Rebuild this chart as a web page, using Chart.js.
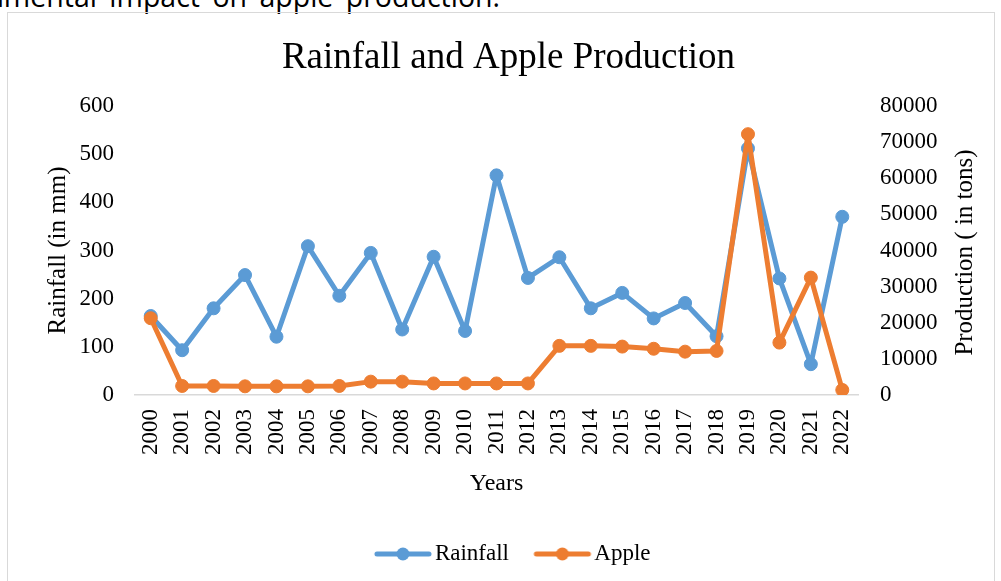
<!DOCTYPE html>
<html>
<head>
<meta charset="utf-8">
<script src="https://cdn.jsdelivr.net/npm/chart.js@4"></script>
<style>
  html, body { margin: 0; padding: 0; background: #fff; }
  body { width: 1001px; height: 581px; position: relative; overflow: hidden; }
  #above {
    position: absolute; right: 501px; top: -17.6px; white-space: nowrap;
    font: 28.5px/28px 'Open Sans', sans-serif; word-spacing: 5px; color: #000;
  }
  #frame {
    position: absolute; left: 7px; top: 12px; width: 988px; height: 580px;
    border: 1px solid #d9d9d9; box-sizing: border-box;
  }
  #chart { position: absolute; left: 0; top: 0; }
</style>
</head>
<body>
<div id="above">environmental impact on apple production.</div>
<div id="frame"></div>
<canvas id="chart" width="1001" height="581"></canvas>
<script>
// values
const years = ['2000', '2001', '2002', '2003', '2004', '2005', '2006', '2007', '2008', '2009', '2010', '2011',
  '2012', '2013', '2014', '2015', '2016', '2017', '2018', '2019', '2020', '2021', '2022'];
const rainfall = [164, 93, 180, 249, 121, 309, 206, 295, 136, 287, 133, 456,
  243, 286, 180, 212, 159, 191, 122, 512, 242, 64, 370];
const apple = [21250, 2500, 2500, 2400, 2400, 2400, 2500, 3700, 3700, 3200, 3200, 3200,
  3200, 13600, 13600, 13400, 12800, 12000, 12200, 72200, 14500, 32500, 1400];

const blue = '#5B9BD5';
const orange = '#ED7D31';
const serif = "'Liberation Serif', 'Times New Roman', serif";
Chart.defaults.font.family = serif;
Chart.defaults.color = '#000';

// legend marker: a short line with a dot, drawn shifted right inside a wider image
function legendMarker(color) {
  const c = document.createElement('canvas');
  c.width = 80; c.height = 16;
  const g = c.getContext('2d');
  g.strokeStyle = color;
  g.lineWidth = 5;
  g.lineCap = 'round';
  g.beginPath();
  g.moveTo(22, 8); g.lineTo(74, 8);
  g.stroke();
  g.fillStyle = color;
  g.beginPath();
  g.arc(48, 8, 6.5, 0, Math.PI * 2);
  g.fill();
  return c;
}
const markers = [legendMarker(blue), legendMarker(orange)];

// right axis title reads bottom to top, so draw it here
const rightTitle = {
  id: 'rightTitle',
  afterDraw(chart) {
    const ctx = chart.ctx;
    const a = chart.chartArea;
    ctx.save();
    ctx.translate(965, (a.top + a.bottom) / 2 + 2);
    ctx.rotate(-Math.PI / 2);
    ctx.font = '25px ' + serif;
    ctx.fillStyle = '#000';
    ctx.textAlign = 'center';
    ctx.textBaseline = 'middle';
    ctx.fillText('Production ( in tons)', 0, 0);
    ctx.restore();
  }
};

const chart = new Chart(document.getElementById('chart'), {
  type: 'line',
  data: {
    labels: years,
    datasets: [{
      label: 'Rainfall',
      data: rainfall,
      yAxisID: 'y',
      borderColor: blue,
      backgroundColor: blue,
      pointBackgroundColor: blue,
      pointBorderColor: blue,
      borderWidth: 5,
      borderJoinStyle: 'round',
      pointRadius: 6.5,
      pointBorderWidth: 1,
      tension: 0,
      order: 1
    }, {
      label: 'Apple',
      data: apple,
      yAxisID: 'y1',
      borderColor: orange,
      backgroundColor: orange,
      pointBackgroundColor: orange,
      pointBorderColor: orange,
      borderWidth: 5,
      borderJoinStyle: 'round',
      pointRadius: 6.5,
      pointBorderWidth: 1,
      tension: 0,
      order: 0
    }]
  },
  options: {
    responsive: false,
    animation: false,
    devicePixelRatio: 1,
    layout: { padding: { left: 16, right: 0, top: 0, bottom: 5.5 } },
    plugins: {
      title: {
        display: true,
        text: 'Rainfall and Apple Production',
        color: '#000',
        font: { family: serif, size: 37, weight: 'normal' },
        padding: { top: 35.8, bottom: 25.8 }
      },
      legend: {
        position: 'bottom',
        labels: {
          usePointStyle: true,
          pointStyleWidth: 57,
          padding: 16.85,
          color: '#000',
          font: { family: serif, size: 23, weight: 'normal' },
          generateLabels(chart) {
            return chart.data.datasets.map((ds, i) => ({
              text: ds.label,
              pointStyle: markers[i],
              fillStyle: ds.borderColor,
              strokeStyle: ds.borderColor,
              lineWidth: 0,
              fontColor: '#000',
              hidden: false,
              datasetIndex: i
            }));
          }
        }
      },
      tooltip: { enabled: false }
    },
    scales: {
      x: {
        offset: true,
        grid: { display: false, drawTicks: false },
        border: { display: true, color: '#d9d9d9', width: 1.5 },
        ticks: {
          color: '#000', font: { family: serif, size: 23 },
          minRotation: 90, maxRotation: 90, padding: 14, autoSkip: false
        },
        title: {
          display: true, text: 'Years', color: '#000',
          font: { family: serif, size: 24 },
          padding: { top: 27.25, bottom: 27.25 }
        },
        afterFit(scale) { scale.height = 130.65; }
      },
      y: {
        position: 'left',
        min: 0, max: 600,
        grid: { display: false, drawTicks: false },
        border: { display: false },
        ticks: { stepSize: 100, color: '#000', font: { family: serif, size: 23 }, padding: 21 },
        title: {
          display: true, text: 'Rainfall (in mm)', color: '#000',
          font: { family: serif, size: 25 },
          padding: { top: 27, bottom: 27 }
        },
        afterFit(scale) { scale.width = 119; }
      },
      y1: {
        position: 'right',
        min: 0, max: 80000,
        grid: { display: false, drawTicks: false },
        border: { display: false },
        ticks: {
          stepSize: 10000, color: '#000', font: { family: serif, size: 23 }, padding: 22,
          callback: v => String(v)
        },
        afterFit(scale) { scale.width = 143; }
      }
    }
  },
  plugins: [rightTitle]
});

// redraw once fonts are settled
document.fonts.ready.then(() => chart.update('none'));
</script>
</body>
</html>
